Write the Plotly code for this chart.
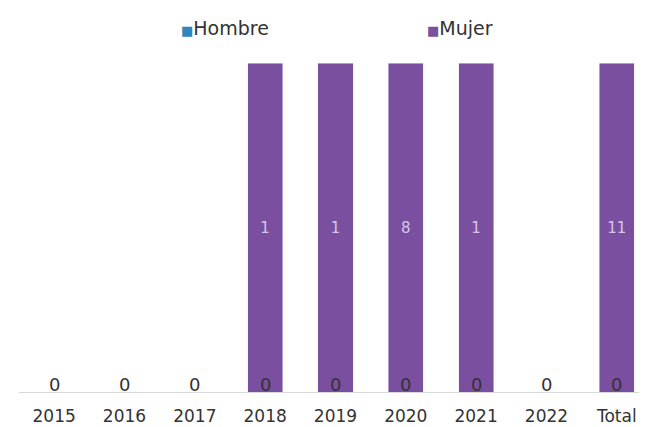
import plotly.graph_objects as go

categories = ["2015", "2016", "2017", "2018", "2019", "2020", "2021", "2022", "Total"]
hombre = [0, 0, 0, 0, 0, 0, 0, 0, 0]
mujer = [0, 0, 0, 1, 1, 8, 1, 0, 11]
series_names = ["Hombre", "Mujer"]
series_colors = ["#2E86C1", "#7B4FA0"]

def pct(a, b):
    out = []
    for x, y in zip(a, b):
        s = x + y
        out.append(100.0 * x / s if s else 0)
    return out

hombre_pct = pct(hombre, mujer)
mujer_pct = pct(mujer, hombre)

W, H = 639, 419  # page body has an 8px margin
FONT = "DejaVu Sans, sans-serif"
TXT = "#333333"
fig = go.Figure()
fig.add_trace(go.Bar(
    name=series_names[0], x=categories, y=hombre_pct,
    marker_color=series_colors[0], width=0.5, showlegend=False,
))
fig.add_trace(go.Bar(
    name=series_names[1], x=categories, y=mujer_pct,
    marker_color=series_colors[1], width=0.5, showlegend=False,
    text=[str(v) if v else "" for v in mujer],
    textposition="inside", insidetextanchor="middle",
    textfont=dict(color="#D5C6E8", size=15, family=FONT),
    textangle=0,
))

for k, (nm, col) in enumerate(zip(series_names, series_colors)):
    fig.add_trace(go.Scatter(
        x=[None], y=[None], mode="markers",
        name=f"<span style='font-size:13px;color:{col}'>■</span>{nm}",
        marker=dict(symbol="square", size=1, color="rgba(0,0,0,0)"),
        legend="legend" if k == 0 else "legend2",
    ))

for i, (v, p) in enumerate(zip(hombre, hombre_pct)):
    fig.add_annotation(x=i, y=p, xref="x", yref="y", text=str(v), showarrow=False, yshift=8,
                       font=dict(size=18, color=TXT, family=FONT))

legfont = dict(size=19, color=TXT, family=FONT)
fig.update_layout(
    width=W, height=H,
    barmode="stack",
    plot_bgcolor="white", paper_bgcolor="white",
    margin=dict(l=11, r=0, t=55, b=35, autoexpand=False),
    showlegend=True,
    legend=dict(x=133 / W, y=1 - 20 / H, xref="container", yref="container",
                xanchor="left", yanchor="middle",
                font=legfont, itemwidth=30, bgcolor="rgba(0,0,0,0)"),
    legend2=dict(x=379 / W, y=1 - 20 / H, xref="container", yref="container",
                 xanchor="left", yanchor="middle",
                 font=legfont, itemwidth=30, bgcolor="rgba(0,0,0,0)"),
    font=dict(family=FONT, color=TXT),
)
fig.update_xaxes(type="category", range=[-0.5, 8.43], showline=True, linecolor="#D9D9D9",
                 linewidth=1, ticks="", ticklabelstandoff=9,
                 tickfont=dict(size=17, color=TXT, family=FONT))
fig.update_yaxes(visible=False, range=[0, 100], showgrid=False)

fig.write_html("out.html")
